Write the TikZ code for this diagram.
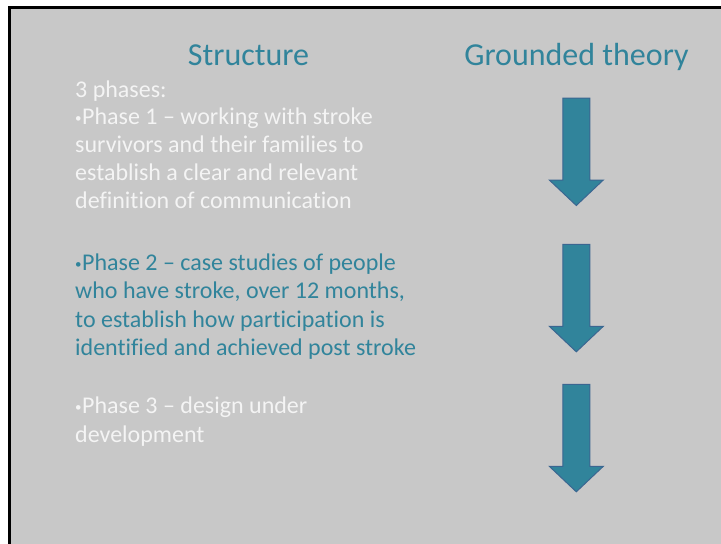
\documentclass[tikz,border=0pt]{standalone}
\usepackage{fontspec}
\setmainfont{Carlito}[Ligatures=NoCommon]
\definecolor{slidebg}{HTML}{C8C8C8}
\definecolor{slideteal}{HTML}{31849B}
\definecolor{arrowedge}{HTML}{3B6691}
\definecolor{slidewhite}{HTML}{F4F4F4}
\newcommand\smallbul{{\fontsize{13}{13}\selectfont\raisebox{2pt}{•}}\hspace{0.5pt}}
\begin{document}
\begin{tikzpicture}[x=1pt,y=-1pt,
  titletext/.style={font=\fontsize{32}{38}\selectfont, text=slideteal, inner sep=0pt, anchor=base},
  bodytext/.style={font=\fontsize{24}{28}\selectfont, inner sep=0pt, anchor=base west},
  whiteline/.style={bodytext, text=slidewhite},
  tealline/.style={bodytext, text=slideteal},
  downarrow/.style={fill=slideteal, draw=arrowedge, line width=1pt, line join=miter}]
\useasboundingbox (0,0) rectangle (721,544);
\fill[white] (0,0) rectangle (721,544);
\fill[black] (8,6) rectangle (721,544);
\fill[slidebg] (11,9) rectangle (721,544);

\node[titletext] (structure) at (248.5,65) {Structure};
\node[titletext] (grounded) at (576.5,65) {Grounded theory};

\node[whiteline] (l1) at (75,97) {3 phases:};
\node[whiteline] (l2) at (75,124) {\smallbul Phase 1 – working with stroke};
\node[whiteline] (l3) at (75,152) {survivors and their families to};
\node[whiteline] (l4) at (75,180) {establish a clear and relevant};
\node[whiteline] (l5) at (75,208) {definition of communication};

\node[tealline] (m1) at (75,270) {\smallbul Phase 2 – case studies of people};
\node[tealline] (m2) at (75,298) {who have stroke, over 12 months,};
\node[tealline] (m3) at (75,327) {to establish how participation is};
\node[tealline] (m4) at (75,355) {identified and achieved post stroke};

\node[whiteline] (n1) at (75,413) {\smallbul Phase 3 – design under};
\node[whiteline] (n2) at (75,442) {development};

\foreach \t in {98,244.3,384.3}
  \draw[downarrow] (562.8,\t) -- (589.8,\t) -- (589.8,\t+82) -- (603.3,\t+82)
    -- (576.3,\t+107.5) -- (549.3,\t+82) -- (562.8,\t+82) -- cycle;
\end{tikzpicture}
\end{document}
